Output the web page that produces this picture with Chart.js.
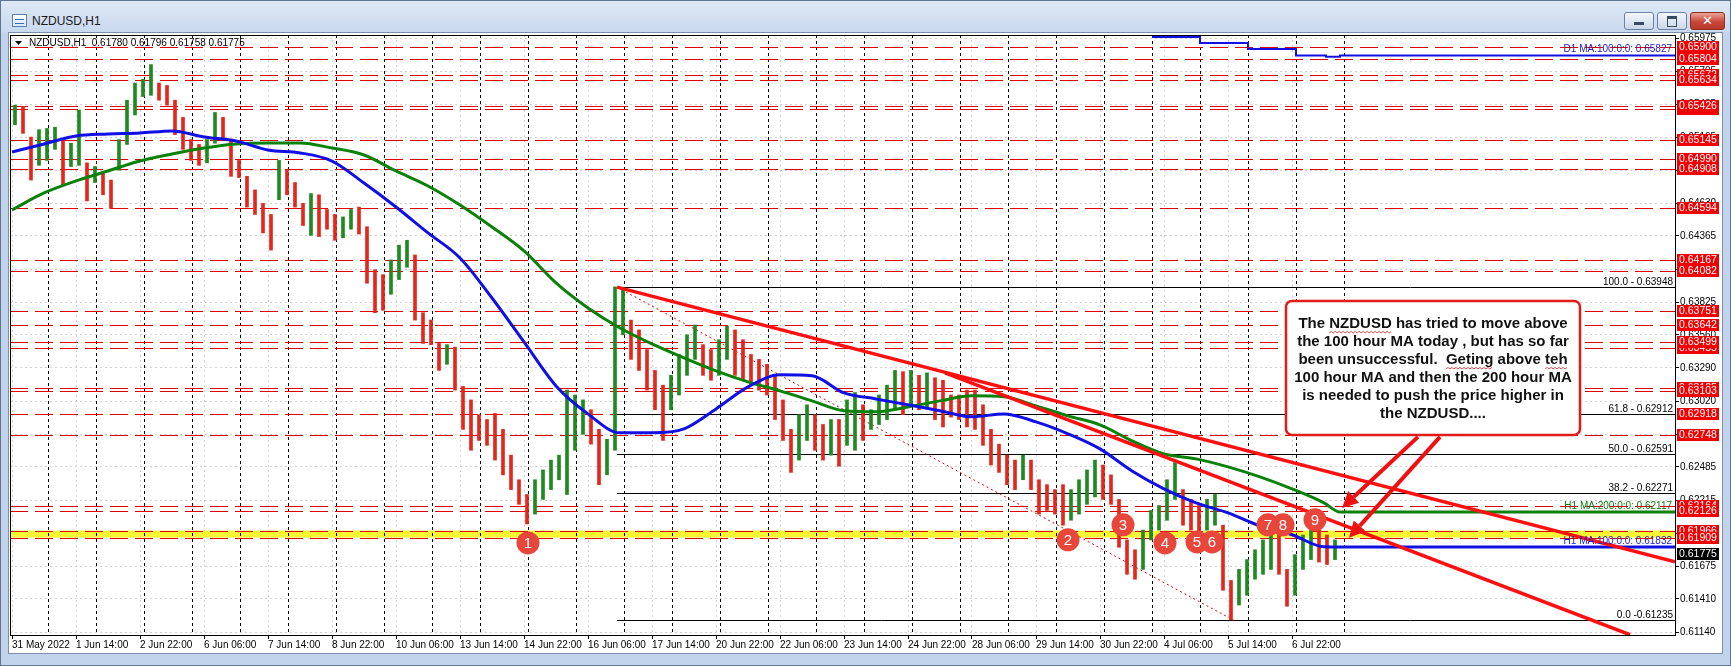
<!DOCTYPE html>
<html>
<head>
<meta charset="utf-8">
<title>NZDUSD,H1</title>
<script src="https://cdn.jsdelivr.net/npm/chart.js@4.4.1/dist/chart.umd.min.js"></script>
<style>
  html, body { margin: 0; padding: 0; }
  body { width: 1731px; height: 666px; overflow: hidden; position: relative;
         font-family: "Liberation Sans", Arial, sans-serif; }
  #frame { position: absolute; left: 0; top: 0; width: 1729px; height: 664px;
           border: 1px solid #5f7592;
           background: linear-gradient(#dde8f5 0px, #c9d9ee 31px, #c2d4eb 32px, #c2d4eb 100%); }
  #icon { position: absolute; left: 11px; top: 13px; width: 13px; height: 11px;
          border: 1px solid #5b7fae; background: linear-gradient(#ffffff, #d8e6f6); }
  #icon:after { content: ""; position: absolute; left: 2px; top: 4px; width: 9px; height: 3px;
                border-top: 1px solid #2f6fc0; border-bottom: 1px solid #2f6fc0; }
  #title { position: absolute; left: 31px; top: 13px; font-size: 12px; color: #1a1a1a; }
  .btn { position: absolute; top: 11px; height: 16px; border: 1px solid #6d83a3; border-radius: 3px;
         background: linear-gradient(#f3f7fc, #cad8eb); }
  #bmin { left: 1623px; width: 28px; }
  #bmin:after { content: ""; position: absolute; left: 9px; top: 9px; width: 10px; height: 3px; background: #3a4a60; }
  #bmax { left: 1656px; width: 28px; }
  #bmax:after { content: ""; position: absolute; left: 9px; top: 3px; width: 8px; height: 7px; border: 1px solid #3a4a60; border-top-width: 3px; }
  #bclose { left: 1689px; width: 33px; border-color: #8a2d22;
            background: linear-gradient(#e9a496, #c9473a 55%, #b8382b); color: #fff;
            font: bold 13px "DejaVu Sans", sans-serif; text-align: center; line-height: 16px; }
  #panel { position: absolute; left: 8px; top: 32px; width: 1713px; height: 620px;
           border: 1px solid #7d90aa; background: #fff; }
  canvas { display: block; }
</style>
</head>
<body>
<div id="frame">
  <div id="icon"></div>
  <div id="title">NZDUSD,H1</div>
  <div class="btn" id="bmin"></div>
  <div class="btn" id="bmax"></div>
  <div class="btn" id="bclose">✕</div>
</div>
<div id="panel"><canvas id="chart" width="1713" height="620"></canvas></div>
<script>
// 4-hour bars starting 31 May 2022 06:00 (bar i covers hourly index 4i .. 4i+3)
const barHigh = [
  0.6543,0.6542,0.6517,0.6523,0.6524,0.6525,0.6515,0.6512,0.6539,0.6496,
  0.6493,0.6488,0.6482,0.6515,0.6547,0.6561,0.6564,0.6576,0.6561,0.6559,
  0.6547,0.6533,0.6515,0.6511,0.6515,0.6537,0.6533,0.6515,0.6498,0.6485,
  0.6474,0.6463,0.6454,0.6498,0.6490,0.6480,0.6463,0.6471,0.6470,0.6458,
  0.6454,0.6452,0.6458,0.6460,0.6444,0.6409,0.6405,0.6417,0.6429,0.6433,
  0.6421,0.6374,0.6368,0.6349,0.6348,0.6346,0.6314,0.6303,0.6291,0.6287,
  0.6292,0.6279,0.6258,0.6238,0.6226,0.6238,0.6246,0.6254,0.6258,0.6311,
  0.6307,0.6303,0.6295,0.6279,0.6271,0.6395,0.6393,0.6368,0.6360,0.6344,
  0.6327,0.6315,0.6323,0.6340,0.6356,0.6364,0.6348,0.6344,0.6352,0.6363,
  0.6360,0.6352,0.6340,0.6336,0.6332,0.6323,0.6303,0.6279,0.6291,0.6299,
  0.6291,0.6283,0.6287,0.6287,0.6303,0.6309,0.6299,0.6295,0.6307,0.6315,
  0.6327,0.6326,0.6327,0.6323,0.6325,0.6321,0.6319,0.6307,0.6307,0.6311,
  0.6311,0.6299,0.6279,0.6267,0.6258,0.6254,0.6258,0.6254,0.6238,0.6234,
  0.6230,0.6234,0.6230,0.6238,0.6246,0.6254,0.6250,0.6242,0.6222,0.6189,
  0.6181,0.6197,0.6213,0.6217,0.6238,0.6252,0.6230,0.6222,0.6217,0.6222,
  0.6226,0.6201,0.6156,0.6165,0.6173,0.6181,0.6189,0.6197,0.6193,0.6165,
  0.6177,0.6193,0.6205,0.6197,0.6193,0.6189
];
const barLow = [
  0.6527,0.6520,0.6482,0.6494,0.6498,0.6507,0.6478,0.6493,0.6494,0.6465,
  0.6480,0.6470,0.6459,0.6490,0.6511,0.6535,0.6550,0.6551,0.6547,0.6543,
  0.6519,0.6507,0.6498,0.6494,0.6496,0.6512,0.6515,0.6485,0.6484,0.6460,
  0.6454,0.6439,0.6425,0.6466,0.6470,0.6460,0.6445,0.6437,0.6436,0.6442,
  0.6433,0.6435,0.6442,0.6438,0.6398,0.6374,0.6376,0.6389,0.6401,0.6411,
  0.6368,0.6349,0.6348,0.6327,0.6332,0.6311,0.6279,0.6262,0.6270,0.6266,
  0.6254,0.6242,0.6230,0.6218,0.6202,0.6210,0.6222,0.6230,0.6238,0.6226,
  0.6262,0.6275,0.6267,0.6234,0.6242,0.6262,0.6356,0.6336,0.6327,0.6311,
  0.6295,0.6270,0.6295,0.6307,0.6323,0.6336,0.6323,0.6319,0.6323,0.6336,
  0.6323,0.6319,0.6315,0.6311,0.6307,0.6287,0.6270,0.6244,0.6254,0.6270,
  0.6262,0.6254,0.6258,0.6249,0.6266,0.6262,0.6270,0.6279,0.6283,0.6287,
  0.6295,0.6291,0.6299,0.6295,0.6297,0.6287,0.6281,0.6289,0.6287,0.6281,
  0.6279,0.6266,0.6250,0.6244,0.6234,0.6230,0.6238,0.6230,0.6210,0.6213,
  0.6210,0.6201,0.6205,0.6210,0.6218,0.6224,0.6222,0.6218,0.6183,0.6161,
  0.6157,0.6165,0.6189,0.6197,0.6205,0.6222,0.6201,0.6197,0.6193,0.6197,
  0.6201,0.6148,0.6124,0.6136,0.6144,0.6157,0.6161,0.6165,0.6161,0.6135,
  0.6144,0.6165,0.6173,0.6171,0.6169,0.6173
];

// time axis: hourly index, label every 32 bars
const xTickLabels = ['31 May 2022','1 Jun 14:00','2 Jun 22:00','6 Jun 06:00','7 Jun 14:00',
  '8 Jun 22:00','10 Jun 06:00','13 Jun 14:00','14 Jun 22:00','16 Jun 06:00','17 Jun 14:00',
  '20 Jun 22:00','22 Jun 06:00','23 Jun 14:00','24 Jun 22:00','28 Jun 06:00','29 Jun 14:00',
  '30 Jun 22:00','4 Jul 06:00','5 Jul 14:00','6 Jul 22:00'];
const yTickLabels = ['0.61140','0.61410','0.61675','0.61945','0.62215','0.62485','0.62750',
  '0.63020','0.63290','0.63560','0.63825','0.64095','0.64365','0.64630','0.64900','0.65165',
  '0.65435','0.65705','0.65975'];

// hourly moving averages, read every 16 bars
const maIdx = [0,16,32,48,64,80,96,112,128,144,160,176,192,208,224,240,256,272,288,304,
  320,336,352,368,384,400,416,432,448,464,480,496,512,528,544,560,576,592,608,624,640,656,664,831.5];
const ma100 = [
  0.65049,0.65114,0.65179,0.65195,0.65203,0.65220,0.65171,0.65138,0.65065,0.65041,
  0.64975,0.64796,0.64601,0.64390,0.64186,0.63860,0.63502,0.63144,0.62916,0.62762,
  0.62762,0.62794,0.62957,0.63136,0.63234,0.63226,0.63087,0.63038,0.62990,0.62941,
  0.62892,0.62916,0.62851,0.62754,0.62631,0.62452,0.62306,0.62192,0.62111,0.62005,
  0.61932,0.61834,0.61832,0.61832];
const ma200 = [
  0.64577,0.64715,0.64813,0.64894,0.64975,0.65032,0.65081,0.65114,0.65122,0.65122,
  0.65081,0.65024,0.64894,0.64772,0.64617,0.64438,0.64243,0.63983,0.63779,0.63616,
  0.63486,0.63372,0.63266,0.63177,0.63104,0.63022,0.62941,0.62933,0.62973,0.63022,
  0.63063,0.63055,0.62981,0.62900,0.62827,0.62697,0.62591,0.62550,0.62485,0.62404,
  0.62306,0.62192,0.62117,0.62117];
// daily 100 MA (step per day)
const d1Idx = [570, 594, 618, 642, 657, 664, 831.5];
const d1Ma = [0.65984, 0.65935, 0.65886, 0.65835, 0.65824, 0.65835, 0.65835];

// horizontal lines (later entries sit on top in the price scale)
const levels = [0.65900,0.65804,0.65672,0.65634,0.65397,0.65426,0.65145,0.64990,0.64908,
  0.64594,0.64167,0.64082,0.63751,0.63642,0.63455,0.63499,0.63125,0.63103,0.62918,0.62748,
  0.62164,0.62126,0.61966,0.61909];
const band = [0.61909, 0.61966];

// fibonacci from the 16 Jun high to the 5 Jul low
const fibStart = 302.5;
const fibPrices = [0.63948, 0.62912, 0.62591, 0.62271, 0.61235];
const fibText = ['100.0 - 0.63948', '61.8 - 0.62912', '50.0 - 0.62591', '38.2 - 0.62271', '0.0 -0.61235'];
const fibDiagIdx = [302.5, 611];
const fibDiagPrice = [0.63948, 0.61235];

// trend lines
const trendAIdx = [302.5, 831.5], trendAPrice = [0.63948, 0.61712];
const trendBIdx = [466.5, 809], trendBPrice = [0.63250, 0.61118];

// numbered touches of the 0.6191-0.6197 area
const markIdx = [258, 528, 555.5, 576.5, 592.5, 600, 628, 635.5, 651.5];
const markPrice = [0.61866, 0.61891, 0.62013, 0.61866, 0.61874, 0.61874, 0.62013, 0.62013, 0.62054];

const lastQuote = 0.61775;
const infoText = 'NZDUSD,H1  0.61780 0.61796 0.61758 0.61775';
const maTags = [
  { text: 'D1 MA:100:0:0: 0.65827', price: 0.65835, color: '#1c1cc8' },
  { text: 'H1 MA:200:0:0: 0.62117', price: 0.62117, color: '#0a7a0a' },
  { text: 'H1 MA:100:0:0: 0.61832', price: 0.61832, color: '#1c1cc8' }
];
const noteLines = ['The NZDUSD has tried to move above', 'the 100 hour MA today , but has so far',
  'been unsuccessful.  Geting above teh', '100 hour MA and then the 200 hour MA',
  'is needed to push the price higher in', 'the NZDUSD....'];
const noteBox = { idx: [637, 784], price: [0.63836, 0.62745] };
const noteArrows = [
  { from: [703, 0.62729], to: [665, 0.62151] },
  { from: [714, 0.62729], to: [668.5, 0.61907] }
];

const FONT = '"Liberation Sans", Arial, sans-serif';
const xTickIdx = xTickLabels.map((_, i) => i * 32);
const daySeps = [];
for (let k = 0; k < 28; k++) daySeps.push(18 + 24 * k);

const mid = barHigh.map((h, i) => (h + barLow[i]) / 2);
const upBars = [], downBars = [];
barHigh.forEach((h, i) => {
  const pt = { x: 4 * i + 1.5, y: [barLow[i], h] };
  (i === 0 || mid[i] >= mid[i - 1] ? upBars : downBars).push(pt);
});
const pts = (xs, ys) => xs.map((v, i) => ({ x: v, y: ys[i] }));

function seg(ctx, x1, y1, x2, y2) {
  ctx.beginPath(); ctx.moveTo(x1, y1); ctx.lineTo(x2, y2); ctx.stroke();
}
function wavy(ctx, x0, x1, y) {
  ctx.beginPath(); ctx.moveTo(x0, y);
  let up = true;
  for (let x = x0 + 2; x <= x1; x += 2) { ctx.lineTo(x, up ? y - 1.5 : y); up = !up; }
  ctx.stroke();
}
function arrow(ctx, x1, y1, x2, y2) {
  const ang = Math.atan2(y2 - y1, x2 - x1), head = 16, half = 8;
  const bx = x2 - head * Math.cos(ang), by = y2 - head * Math.sin(ang);
  ctx.lineWidth = 4;
  seg(ctx, x1, y1, bx, by);
  ctx.beginPath(); ctx.moveTo(x2, y2);
  ctx.lineTo(bx + half * Math.sin(ang), by - half * Math.cos(ang));
  ctx.lineTo(bx - half * Math.sin(ang), by + half * Math.cos(ang));
  ctx.closePath(); ctx.fill();
}

const mt4Layer = {
  id: 'mt4Layer',
  beforeDatasetsDraw(chart) {
    const { ctx, chartArea: a, scales: { x, y } } = chart;
    ctx.save();
    ctx.beginPath(); ctx.rect(a.left, a.top, a.right - a.left, a.bottom - a.top); ctx.clip();
    ctx.lineWidth = 1;
    // yellow zone
    const bt = y.getPixelForValue(band[1]), bb = y.getPixelForValue(band[0]);
    ctx.fillStyle = '#f8f832';
    ctx.fillRect(a.left, bt, a.right - a.left, bb - bt);
    // day separators
    ctx.strokeStyle = '#000'; ctx.setLineDash([3, 3]);
    daySeps.forEach(i => { const X = Math.round(x.getPixelForValue(i)) + 0.5; seg(ctx, X, a.top, X, a.bottom); });
    // red horizontal levels
    ctx.strokeStyle = '#e00000'; ctx.setLineDash([18, 7]);
    levels.forEach(p => { const Y = Math.round(y.getPixelForValue(p)) + 0.5; seg(ctx, a.left, Y, a.right, Y); });
    // fib levels
    ctx.setLineDash([]); ctx.strokeStyle = '#000'; ctx.fillStyle = '#000';
    ctx.font = '10px ' + FONT; ctx.textAlign = 'right'; ctx.textBaseline = 'alphabetic';
    const fx = x.getPixelForValue(fibStart);
    fibPrices.forEach((p, k) => {
      const Y = Math.round(y.getPixelForValue(p)) + 0.5;
      seg(ctx, fx, Y, a.right, Y);
      ctx.fillText(fibText[k], a.right - 2, Y - 3);
    });
    ctx.strokeStyle = '#e00000'; ctx.setLineDash([2, 3]);
    seg(ctx, x.getPixelForValue(fibDiagIdx[0]), y.getPixelForValue(fibDiagPrice[0]),
      x.getPixelForValue(fibDiagIdx[1]), y.getPixelForValue(fibDiagPrice[1]));
    ctx.restore();
  },
  afterDatasetsDraw(chart) {
    const { ctx, chartArea: a, scales: { x, y } } = chart;
    ctx.save();
    // numbers in the touch markers
    const meta = chart.getDatasetMeta(0);
    ctx.fillStyle = '#fff'; ctx.font = '15px ' + FONT;
    ctx.textAlign = 'center'; ctx.textBaseline = 'middle';
    meta.data.forEach((el, i) => ctx.fillText(String(i + 1), el.x, el.y + 1));
    // MA tags
    ctx.font = '10px ' + FONT; ctx.textAlign = 'right'; ctx.textBaseline = 'alphabetic';
    maTags.forEach(t => { ctx.fillStyle = t.color; ctx.fillText(t.text, a.right - 3, y.getPixelForValue(t.price) - 3); });
    // header text
    ctx.fillStyle = '#000';
    ctx.beginPath(); ctx.moveTo(a.left + 5, a.top + 6); ctx.lineTo(a.left + 12, a.top + 6); ctx.lineTo(a.left + 8.5, a.top + 10); ctx.closePath(); ctx.fill();
    ctx.textAlign = 'left'; ctx.textBaseline = 'middle';
    ctx.fillText(infoText, a.left + 19, a.top + 8);
    // arrows
    ctx.strokeStyle = '#ee1111'; ctx.fillStyle = '#ee1111';
    noteArrows.forEach(r => arrow(ctx, x.getPixelForValue(r.from[0]), y.getPixelForValue(r.from[1]),
      x.getPixelForValue(r.to[0]), y.getPixelForValue(r.to[1])));
    // note box
    const bx0 = x.getPixelForValue(noteBox.idx[0]), bx1 = x.getPixelForValue(noteBox.idx[1]);
    const by0 = y.getPixelForValue(noteBox.price[0]), by1 = y.getPixelForValue(noteBox.price[1]);
    ctx.beginPath(); ctx.roundRect(bx0, by0, bx1 - bx0, by1 - by0, 6);
    ctx.fillStyle = '#fff'; ctx.fill();
    ctx.lineWidth = 2.5; ctx.strokeStyle = '#e41b1b'; ctx.stroke();
    ctx.font = 'bold 15px ' + FONT; ctx.fillStyle = '#111'; ctx.textAlign = 'left'; ctx.textBaseline = 'middle';
    const cx = (bx0 + bx1) / 2;
    const under = [[0, 'NZDUSD'], [2, 'Geting'], [2, 'teh']];
    noteLines.forEach((s, k) => {
      const w = ctx.measureText(s).width, sx = cx - w / 2, ly = by0 + 23 + k * 18;
      ctx.fillText(s, sx, ly);
      under.filter(u => u[0] === k).forEach(u => {
        const p = s.indexOf(u[1]);
        const u0 = sx + ctx.measureText(s.slice(0, p)).width, u1 = u0 + ctx.measureText(u[1]).width;
        ctx.strokeStyle = '#d42020'; ctx.lineWidth = 0.8; wavy(ctx, u0, u1, ly + 9);
      });
    });
    // plot frame
    ctx.strokeStyle = '#000'; ctx.lineWidth = 1;
    ctx.strokeRect(a.left + 0.5, a.top + 0.5, a.right - a.left, a.bottom - a.top);
    ctx.restore();
  },
  afterDraw(chart) {
    const { ctx, chartArea: a, scales: { y } } = chart;
    ctx.save();
    ctx.font = '10.5px ' + FONT; ctx.textAlign = 'left'; ctx.textBaseline = 'middle';
    levels.forEach(p => {
      const Y = Math.round(y.getPixelForValue(p));
      ctx.fillStyle = '#f00000'; ctx.fillRect(a.right + 2, Y - 6, 42, 12);
      ctx.fillStyle = '#fff'; ctx.fillText(p.toFixed(5), a.right + 4, Y + 0.5);
    });
    const Y = Math.round(y.getPixelForValue(lastQuote));
    ctx.fillStyle = '#000'; ctx.fillRect(a.right + 2, Y - 6, 42, 12);
    ctx.fillStyle = '#fff'; ctx.fillText(lastQuote.toFixed(5), a.right + 4, Y + 0.5);
    ctx.restore();
  }
};

new Chart(document.getElementById('chart'), {
  type: 'line',
  data: {
    datasets: [
      { data: pts(markIdx, markPrice), showLine: false, pointRadius: 11.5, pointHoverRadius: 11.5,
        pointBackgroundColor: '#e8463b', pointBorderWidth: 0, order: 0, clip: false },
      { data: pts(trendAIdx, trendAPrice), borderColor: '#ff1010', borderWidth: 3.5, pointRadius: 0, order: 1, clip: 0 },
      { data: pts(trendBIdx, trendBPrice), borderColor: '#ff1010', borderWidth: 3.5, pointRadius: 0, order: 1, clip: 0 },
      { data: pts(maIdx, ma100), borderColor: '#1010e6', borderWidth: 3, pointRadius: 0,
        cubicInterpolationMode: 'monotone', order: 2, clip: 0 },
      { data: pts(maIdx, ma200), borderColor: '#0a820a', borderWidth: 3, pointRadius: 0,
        cubicInterpolationMode: 'monotone', order: 2, clip: 0 },
      { data: pts(d1Idx, d1Ma), borderColor: '#1010e6', borderWidth: 2, pointRadius: 0,
        stepped: true, order: 2, clip: 0 },
      { type: 'bar', data: upBars, backgroundColor: '#1f8a1f', barThickness: 3, grouped: false, order: 5 },
      { type: 'bar', data: downBars, backgroundColor: '#e6261c', barThickness: 3, grouped: false, order: 5 }
    ]
  },
  options: {
    responsive: false,
    animation: false,
    events: [],
    layout: { autoPadding: false, padding: { left: 1, top: 2, right: 0, bottom: 0 } },
    plugins: { legend: { display: false }, tooltip: { enabled: false } },
    scales: {
      x: {
        type: 'linear', min: -1, max: 831.5, offset: false,
        afterBuildTicks: s => { s.ticks = xTickIdx.map(v => ({ value: v })); },
        afterFit: s => { s.height = 18; s.paddingLeft = 0; s.paddingRight = 0; },
        ticks: { autoSkip: false, maxRotation: 0, minRotation: 0, align: 'start', padding: 0,
                 color: '#000', font: { size: 10, family: FONT },
                 callback: (v, i) => xTickLabels[i] },
        grid: { color: '#d2d2d2', tickColor: '#000', tickLength: 4, offset: false },
        border: { color: '#000', dash: [2, 3] }
      },
      y: {
        type: 'linear', position: 'right', min: 0.61116, max: 0.66001,
        afterBuildTicks: s => { s.ticks = yTickLabels.map(v => ({ value: Number(v) })); },
        afterFit: s => { s.width = 47; s.paddingTop = 0; s.paddingBottom = 0; },
        ticks: { autoSkip: false, padding: 1, color: '#000', font: { size: 10, family: FONT },
                 callback: (v, i) => yTickLabels[i] },
        grid: { color: '#d2d2d2', tickColor: '#000', tickLength: 4 },
        border: { color: '#000', dash: [2, 3] }
      }
    }
  },
  plugins: [mt4Layer]
});
</script>
</body>
</html>
